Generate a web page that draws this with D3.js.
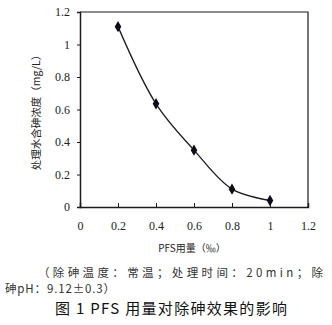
<!DOCTYPE html>
<html>
<head>
<meta charset="utf-8">
<script src="https://cdn.jsdelivr.net/npm/d3@7"></script>
<style>
  body { margin: 0; background: #fff; }
  svg { display: block; }
</style>
</head>
<body>
<svg id="chart" width="332" height="325"></svg>
<script>
// + -- data ------------------------------------------------------------------ +
const doses = [0.2, 0.4, 0.6, 0.8, 1.0]
const arsenic = [1.11, 0.635, 0.35, 0.11, 0.04]
const xTicks = [0, 0.2, 0.4, 0.6, 0.8, 1, 1.2]
const yTicks = [0, 0.2, 0.4, 0.6, 0.8, 1, 1.2]

const svg = d3.select('#chart')
const ink = '#1c1c1c'
const serif = "'Times New Roman', 'Liberation Serif', 'DejaVu Serif', serif"
const cjk = "'Noto Sans CJK SC', sans-serif"

const x = d3.scaleLinear().domain([0, 1.2]).range([80, 308])
const y = d3.scaleLinear().domain([0, 1.2]).range([207, 12])

// frame (top + right)
svg.append('path')
  .attr('d', 'M' + x(0) + ',' + y(1.2) + 'H' + x(1.2) + 'V' + y(0))
  .attr('fill', 'none')
  .attr('stroke', ink)
  .attr('stroke-width', 1.2)

// + --- axes ------------------------------------------------------------------ +
const xAxis = svg.append('g')
  .attr('transform', 'translate(0,' + y(0) + ')')
  .call(d3.axisBottom(x).tickValues(xTicks).tickSize(-4).tickPadding(14)
    .tickFormat(d => d3.format('~g')(d)))
const yAxis = svg.append('g')
  .attr('transform', 'translate(' + x(0) + ',0)')
  .call(d3.axisLeft(y).tickValues(yTicks).tickSize(3).tickPadding(7)
    .tickFormat(d => d3.format('~g')(d)))

;[xAxis, yAxis].forEach(g => {
  g.attr('font-family', serif).attr('font-size', 12)
  g.select('.domain').attr('stroke', ink).attr('stroke-width', 1.5)
  g.selectAll('.tick line').attr('stroke', ink)
  g.selectAll('.tick text')
    .attr('fill', '#222')
    .attr('font-family', serif)
})

// + --- series ---------------------------------------------------------------- +
const pts = doses.map((d, i) => [d, arsenic[i]])
svg.append('path')
  .datum(pts)
  .attr('fill', 'none')
  .attr('stroke', ink)
  .attr('stroke-width', 1.3)
  .attr('d', d3.line().x(d => x(d[0])).y(d => y(d[1])).curve(d3.curveCatmullRom.alpha(0.5)))

svg.selectAll('.pt')
  .data(pts)
  .enter().append('path')
  .attr('class', 'pt')
  .attr('transform', d => 'translate(' + x(d[0]) + ',' + y(d[1]) + ')')
  .attr('d', d3.symbol().type(d3.symbolDiamond).size(38))
  .attr('fill', '#0d0d1a')

// + --- labels ---------------------------------------------------------------- +
svg.append('text')
  .attr('transform', 'translate(40,110) rotate(-90)')
  .attr('text-anchor', 'middle')
  .style('font-family', cjk)
  .style('font-size', '10.5px')
  .attr('fill', '#222')
  .text('处理水含砷浓度（mg/L）')

svg.append('text')
  .attr('x', 192)
  .attr('y', 252)
  .attr('text-anchor', 'middle')
  .style('font-family', cjk)
  .style('font-size', '10px')
  .attr('fill', '#222')
  .text('PFS用量（‰）')

svg.append('text')
  .attr('x', 38)
  .attr('y', 277)
  .attr('textLength', 285)
  .style('font-family', cjk)
  .style('font-size', '11.5px')
  .attr('fill', '#333')
  .text('（除砷温度：常温；处理时间：20min；除')

svg.append('text')
  .attr('x', 5)
  .attr('y', 293)
  .attr('textLength', 110)
  .style('font-family', cjk)
  .style('font-size', '11.5px')
  .attr('fill', '#333')
  .text('砷pH：9.12±0.3）')

svg.append('text')
  .attr('x', 55)
  .attr('y', 314)
  .attr('textLength', 232)
  .style('font-family', cjk)
  .style('font-size', '15px')
  .attr('fill', '#111')
  .text('图 1 PFS 用量对除砷效果的影响')
</script>
</body>
</html>
